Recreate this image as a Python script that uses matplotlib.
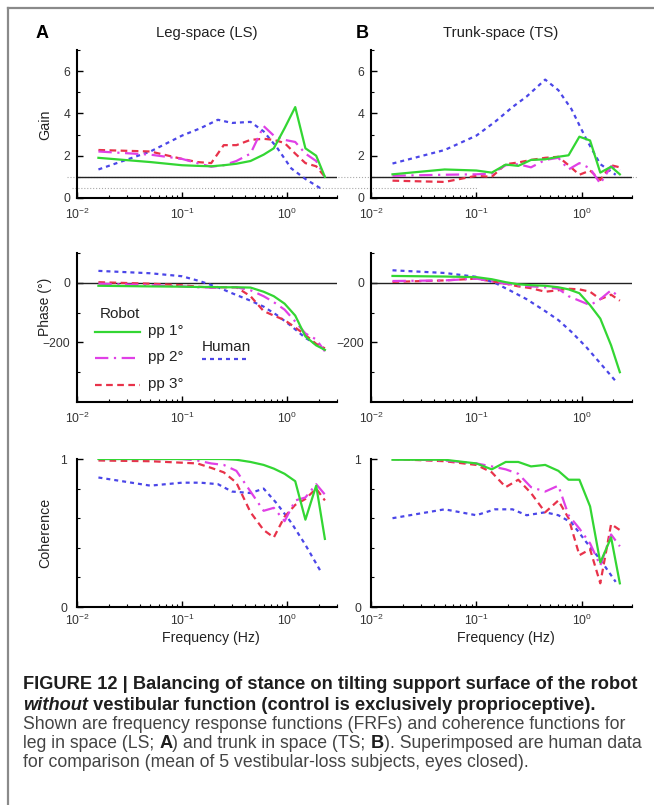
import numpy as np
import matplotlib
matplotlib.use("Agg")
import matplotlib.pyplot as plt
from matplotlib.lines import Line2D
from matplotlib import transforms

plt.rcParams['font.family'] = ['Liberation Sans', 'DejaVu Sans']
plt.rcParams['mathtext.fontset'] = 'custom'
plt.rcParams['mathtext.rm'] = 'Liberation Sans'
plt.rcParams['mathtext.it'] = 'Liberation Sans:italic'
plt.rcParams['mathtext.bf'] = 'Liberation Sans:bold'

# ---- data ----
f_robot = [0.016, 0.05, 0.1, 0.14, 0.19, 0.25, 0.33, 0.45, 0.6, 0.75, 0.95, 1.2, 1.5, 1.9, 2.3]
f_human = [0.016, 0.05, 0.1, 0.15, 0.22, 0.3, 0.45, 0.6, 0.8, 1.1, 1.5, 2.1]

# leg in space (A)
gain_ls_pp1 = [1.9, 1.7, 1.55, 1.52, 1.5, 1.55, 1.62, 1.75, 2.05, 2.35, 3.3, 4.3, 2.35, 2.0, 1.0]
gain_ls_pp2 = [2.2, 2.05, 1.85, 1.65, 1.48, 1.55, 1.75, 2.1, 3.4, 2.95, 2.75, 2.65, 2.1, 1.75, 1.0]
gain_ls_pp3 = [2.27, 2.2, 1.85, 1.7, 1.65, 2.5, 2.5, 2.75, 2.8, 2.75, 2.6, 2.1, 1.65, 1.5, 1.0]
gain_ls_hum = [1.35, 2.2, 2.95, 3.3, 3.7, 3.55, 3.6, 3.15, 2.4, 1.4, 0.9, 0.45]

phase_ls_pp1 = [-10, -12, -13, -14, -14, -15, -15, -16, -30, -45, -70, -110, -180, -210, -225]
phase_ls_pp2 = [-3, -8, -12, -15, -16, -15, -15, -25, -45, -65, -90, -130, -170, -190, -230]
phase_ls_pp3 = [2, -3, -8, -13, -16, -15, -15, -45, -95, -110, -125, -150, -175, -205, -220]
phase_ls_hum = [40, 32, 22, 5, -15, -35, -60, -80, -108, -145, -185, -215]

coh_ls_pp1 = [1.0, 1.0, 1.0, 1.0, 1.0, 1.0, 0.995, 0.98, 0.96, 0.935, 0.9, 0.85, 0.59, 0.82, 0.46]
coh_ls_pp2 = [1.0, 1.0, 1.0, 0.99, 0.97, 0.96, 0.92, 0.78, 0.65, 0.67, 0.58, 0.72, 0.74, 0.83, 0.76]
coh_ls_pp3 = [0.99, 0.985, 0.975, 0.97, 0.94, 0.91, 0.84, 0.64, 0.52, 0.47, 0.61, 0.69, 0.73, 0.8, 0.72]
coh_ls_hum = [0.875, 0.82, 0.84, 0.84, 0.83, 0.78, 0.77, 0.8, 0.7, 0.57, 0.42, 0.24]

# trunk in space (B)
gain_ts_pp1 = [1.12, 1.35, 1.3, 1.2, 1.58, 1.52, 1.8, 1.83, 1.95, 2.02, 2.9, 2.72, 1.2, 1.48, 1.12]
gain_ts_pp2 = [1.05, 1.1, 1.12, 1.15, 1.55, 1.6, 1.45, 1.8, 1.9, 1.35, 1.65, 1.4, 0.68, 1.5, 1.3]
gain_ts_pp3 = [0.82, 0.76, 1.05, 1.0, 1.6, 1.68, 1.8, 1.9, 1.95, 1.55, 1.1, 1.3, 0.85, 1.55, 1.45]
gain_ts_hum = [1.63, 2.27, 2.95, 3.6, 4.3, 4.8, 5.6, 5.1, 4.2, 2.8, 1.6, 1.1]

phase_ts_pp1 = [23, 21, 19, 12, 2, -5, -8, -10, -15, -22, -35, -75, -120, -210, -300]
phase_ts_pp2 = [6, 8, 14, 5, -3, -9, -12, -15, -20, -45, -60, -75, -55, -25, -50]
phase_ts_pp3 = [3, 8, 14, 5, -3, -12, -18, -30, -25, -20, -22, -30, -55, -40, -60]
phase_ts_hum = [42, 33, 20, 0, -30, -55, -95, -125, -165, -215, -270, -330]

coh_ts_pp1 = [0.995, 0.995, 0.97, 0.93, 0.98, 0.98, 0.95, 0.96, 0.92, 0.86, 0.86, 0.68, 0.3, 0.47, 0.16]
coh_ts_pp2 = [1.0, 0.99, 0.97, 0.95, 0.93, 0.9, 0.81, 0.78, 0.82, 0.62, 0.53, 0.43, 0.28, 0.49, 0.41]
coh_ts_pp3 = [1.0, 0.985, 0.96, 0.91, 0.81, 0.86, 0.77, 0.64, 0.72, 0.6, 0.35, 0.39, 0.16, 0.56, 0.52]
coh_ts_hum = [0.6, 0.66, 0.62, 0.66, 0.66, 0.62, 0.64, 0.62, 0.57, 0.44, 0.32, 0.17]

# ---- styles ----
GREEN, MAGENTA, RED, BLUE = '#33d633', '#e040e6', '#e8324a', '#4b46e8'
st_pp1 = dict(color=GREEN, lw=1.6)
st_pp2 = dict(color=MAGENTA, lw=1.6, dashes=(6, 2.5, 1, 2.5))
st_pp3 = dict(color=RED, lw=1.6, dashes=(3, 2))
st_hum = dict(color=BLUE, lw=1.6, dashes=(1.8, 1.8))
TXT = '#222222'

W, H = 654, 805
fig = plt.figure(figsize=(W / 100, H / 100), dpi=100)


def fx(x):
    return x / W


def fy(y):
    return 1 - y / H


def make_ax(left, right, top, bottom, xpad, ypad):
    ax = fig.add_axes([fx(left), fy(bottom), (right - left) / W, (bottom - top) / H])
    ax.set_xscale('log')
    ax.set_xlim(0.01, 3)
    ax.set_xticks([0.01, 0.1, 1])
    for s in ('top', 'right'):
        ax.spines[s].set_visible(False)
    for s in ('left', 'bottom'):
        ax.spines[s].set_linewidth(1.5)
    ax.tick_params(which='major', direction='in', length=4, width=1,
                   labelsize=8.7, labelcolor='#333333')
    ax.tick_params(axis='x', which='major', pad=xpad)
    ax.tick_params(axis='y', which='major', pad=ypad)
    ax.tick_params(which='minor', direction='in', length=2, width=0.8)
    ax.patch.set_alpha(0)
    return ax


cols = [(77, 337), (371, 632)]
rows = [(50, 198, 6, 5), (253, 402, 6, 5), (459, 607, 4.5, 7)]

axes = [[make_ax(l, r, t, b, px_, py_) for (l, r) in cols] for (t, b, px_, py_) in rows]

gain = [(gain_ls_pp1, gain_ls_pp2, gain_ls_pp3, gain_ls_hum),
        (gain_ts_pp1, gain_ts_pp2, gain_ts_pp3, gain_ts_hum)]
phase = [(phase_ls_pp1, phase_ls_pp2, phase_ls_pp3, phase_ls_hum),
         (phase_ts_pp1, phase_ts_pp2, phase_ts_pp3, phase_ts_hum)]
coh = [(coh_ls_pp1, coh_ls_pp2, coh_ls_pp3, coh_ls_hum),
       (coh_ts_pp1, coh_ts_pp2, coh_ts_pp3, coh_ts_hum)]

for j in range(2):
    for i, data in enumerate((gain[j], phase[j], coh[j])):
        ax = axes[i][j]
        p1, p2, p3, hu = data
        ax.plot(f_human, hu, **st_hum, zorder=3)
        ax.plot(f_robot, p3, **st_pp3, zorder=4)
        ax.plot(f_robot, p2, **st_pp2, zorder=5)
        ax.plot(f_robot, p1, **st_pp1, zorder=6)

    # gain
    ax = axes[0][j]
    ax.set_ylim(0, 7)
    ax.set_yticks([0, 2, 4, 6])
    ax.set_yticks([1, 3, 5, 7], minor=True)
    ax.axhline(1, color='#222222', lw=1, zorder=2)
    # phase
    ax = axes[1][j]
    ax.set_ylim(-400, 100)
    ax.set_yticks([-200, 0])
    ax.set_yticklabels(['\u2212200', '0'])
    ax.set_yticks([-300, -100, 100], minor=True)
    ax.axhline(0, color='#222222', lw=1, zorder=2)
    # coherence
    ax = axes[2][j]
    ax.set_ylim(0, 1)
    ax.set_yticks([0, 1])
    ax.set_yticks([0.2, 0.4, 0.6, 0.8], minor=True)

# faint dotted guide lines in the gain row
blend = transforms.blended_transform_factory(fig.transFigure, axes[0][0].transData)
fig.add_artist(Line2D([fx(67), fx(637)], [1, 1], transform=blend, color='#aaaaaa',
                      lw=0.8, ls=':', zorder=0))
fig.add_artist(Line2D([fx(72), fx(477)], [0.48, 0.48], transform=blend, color='#aaaaaa',
                      lw=0.8, ls=':', zorder=0))

# frame
fig.add_artist(Line2D([fx(8), fx(8)], [fy(8), 0], color='#8a8a8a', lw=1.6))
fig.add_artist(Line2D([fx(8), 1], [fy(8), fy(8)], color='#8a8a8a', lw=1.6))

# panel titles and labels
fig.text(fx(42), fy(33), 'A', fontsize=13, fontweight='bold', ha='center', va='center')
fig.text(fx(362), fy(33), 'B', fontsize=13, fontweight='bold', ha='center', va='center')
fig.text(fx(207), fy(33), 'Leg-space (LS)', fontsize=10.7, ha='center', va='center', color=TXT)
fig.text(fx(501), fy(33), 'Trunk-space (TS)', fontsize=10.7, ha='center', va='center', color=TXT)
fig.text(fx(45), fy(125), 'Gain', fontsize=10.3, rotation=90, ha='center', va='center', color=TXT)
fig.text(fx(45), fy(307), 'Phase (\u00b0)', fontsize=10, rotation=90, ha='center', va='center', color=TXT)
fig.text(fx(45), fy(533), 'Coherence', fontsize=10.3, rotation=90, ha='center', va='center', color=TXT)
fig.text(fx(211), fy(638), 'Frequency (Hz)', fontsize=10.2, ha='center', va='center', color=TXT)
fig.text(fx(506), fy(638), 'Frequency (Hz)', fontsize=10.2, ha='center', va='center', color=TXT)

# legend drawn by hand inside phase panel A
leg_items = [('pp 1\u00b0', st_pp1, 332), ('pp 2\u00b0', st_pp2, 358), ('pp 3\u00b0', st_pp3, 385)]
fig.text(fx(100), fy(314), 'Robot', fontsize=11, ha='left', va='center', color=TXT)
for label, st, yy in leg_items:
    fig.add_artist(Line2D([fx(95), fx(140)], [fy(yy), fy(yy)], **st))
    fig.text(fx(148), fy(yy - 1), label, fontsize=11, ha='left', va='center', color=TXT)
fig.text(fx(202), fy(347), 'Human', fontsize=11, ha='left', va='center', color=TXT)
fig.add_artist(Line2D([fx(202), fx(249)], [fy(359), fy(359)], **st_hum))

# caption
renderer = fig.canvas.get_renderer()


def text_width(s, size, weight='normal', style='normal'):
    t = fig.text(0, 0, s, fontsize=size, fontweight=weight, fontstyle=style)
    w = t.get_window_extent(renderer=renderer).width
    t.remove()
    return w


line1 = 'FIGURE 12 | Balancing of stance on tilting support surface of the robot'
line3 = 'Shown are frequency response functions (FRFs) and coherence functions for'
bsize = 10 * 615 / text_width(line1, 10, 'bold')
rsize = 10 * 603 / text_width(line3, 10)


def put_line(y, parts):
    x = 23
    for s, weight, style, color in parts:
        size = bsize if weight == 'bold' else rsize
        t = fig.text(fx(x), fy(y), s, fontsize=size, fontweight=weight, fontstyle=style,
                     ha='left', va='center', color=color)
        x += t.get_window_extent(renderer=renderer).width


DK, RG = '#1e1e1e', '#444444'
put_line(684, [(line1, 'bold', 'normal', DK)])
put_line(705, [('without', 'bold', 'italic', DK),
               (' vestibular function (control is exclusively proprioceptive).', 'bold', 'normal', DK)])
put_line(724, [(line3, 'normal', 'normal', RG)])
put_line(743, [('leg in space (LS; ', 'normal', 'normal', RG), ('A', 'bold', 'normal', DK),
               (') and trunk in space (TS; ', 'normal', 'normal', RG), ('B', 'bold', 'normal', DK),
               ('). Superimposed are human data', 'normal', 'normal', RG)])
put_line(762, [('for comparison (mean of 5 vestibular-loss subjects, eyes closed).', 'normal', 'normal', RG)])

fig.savefig('out.png', dpi=100, facecolor='white')
